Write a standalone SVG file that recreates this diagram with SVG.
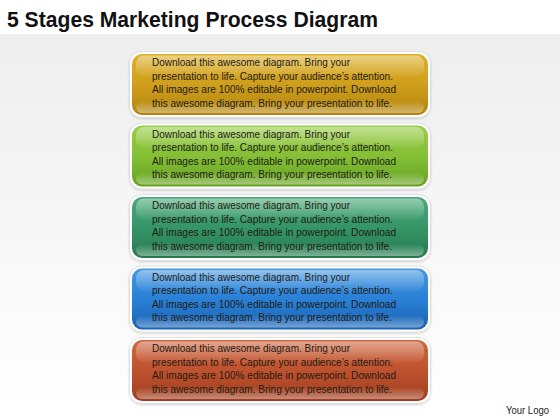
<svg xmlns="http://www.w3.org/2000/svg" width="560" height="420" viewBox="0 0 560 420">
  <defs>
    <linearGradient id="bg" x1="0" y1="0" x2="0" y2="1">
      <stop offset="0" stop-color="#eeeeee"/>
      <stop offset="1" stop-color="#ffffff"/>
    </linearGradient>
    <linearGradient id="gGold" x1="0" y1="0" x2="0" y2="1">
      <stop offset="0" stop-color="#deb02a"/>
      <stop offset="0.5" stop-color="#cf9e1c"/>
      <stop offset="1" stop-color="#b3850e"/>
    </linearGradient>
    <linearGradient id="gGreen" x1="0" y1="0" x2="0" y2="1">
      <stop offset="0" stop-color="#98cd45"/>
      <stop offset="0.5" stop-color="#84bf36"/>
      <stop offset="1" stop-color="#67a222"/>
    </linearGradient>
    <linearGradient id="gTeal" x1="0" y1="0" x2="0" y2="1">
      <stop offset="0" stop-color="#4aa97a"/>
      <stop offset="0.5" stop-color="#359566"/>
      <stop offset="1" stop-color="#267a51"/>
    </linearGradient>
    <linearGradient id="gBlue" x1="0" y1="0" x2="0" y2="1">
      <stop offset="0" stop-color="#4497e2"/>
      <stop offset="0.5" stop-color="#2a80d6"/>
      <stop offset="1" stop-color="#1a63b4"/>
    </linearGradient>
    <linearGradient id="gRed" x1="0" y1="0" x2="0" y2="1">
      <stop offset="0" stop-color="#cf6641"/>
      <stop offset="0.5" stop-color="#bf522e"/>
      <stop offset="1" stop-color="#9e3d1e"/>
    </linearGradient>
    <linearGradient id="hl" x1="0" y1="0" x2="0" y2="1">
      <stop offset="0" stop-color="#ffffff" stop-opacity="0.42"/>
      <stop offset="1" stop-color="#ffffff" stop-opacity="0.03"/>
    </linearGradient>
    <linearGradient id="rim" x1="0" y1="0" x2="0" y2="1">
      <stop offset="0" stop-color="#ffffff" stop-opacity="0"/>
      <stop offset="1" stop-color="#ffffff" stop-opacity="0.4"/>
    </linearGradient>
    <filter id="sh" x="-5%" y="-10%" width="110%" height="125%">
      <feDropShadow dx="0" dy="1" stdDeviation="1.2" flood-color="#000000" flood-opacity="0.18"/>
    </filter>
  </defs>
  <style>
    .title { font-family: "Liberation Sans", Arial, sans-serif; font-weight: bold; font-size: 22px; fill: #111111; }
    .body { font-family: "Liberation Sans", Arial, sans-serif; font-size: 11px; fill: #1e1c14; }
    .logo { font-family: "Liberation Sans", Arial, sans-serif; font-size: 10.5px; fill: #222222; }
    .outer { fill: #ffffff; stroke: #dcdcdc; stroke-width: 0.8; filter: url(#sh); }
    .hl { fill: url(#hl); }
    .rim { fill: url(#rim); }
  </style>

  <rect x="0" y="0" width="560" height="420" fill="#ffffff"/>
  <rect x="0" y="34" width="560" height="386" fill="url(#bg)"/>

  <text class="title" x="7" y="27" textLength="371" lengthAdjust="spacingAndGlyphs">5 Stages Marketing Process Diagram</text>

  <g id="connectors"></g>

  <g id="stage1">
    <rect class="outer" x="129.5" y="51.5" width="301" height="66" rx="12"/>
    <rect x="132" y="54" width="296" height="61" rx="10" fill="url(#gGold)"/>
    <rect class="hl" x="136" y="55.5" width="288" height="21" rx="8"/>
    <rect class="rim" x="136" y="101" width="288" height="12" rx="6"/>
    <text class="body" x="152" y="66" textLength="198" lengthAdjust="spacingAndGlyphs">Download this awesome diagram. Bring your</text>
    <text class="body" x="152" y="79.5" textLength="241" lengthAdjust="spacingAndGlyphs">presentation to life. Capture your audience’s attention.</text>
    <text class="body" x="152" y="93" textLength="244" lengthAdjust="spacingAndGlyphs">All images are 100% editable in powerpoint. Download</text>
    <text class="body" x="152" y="106.5" textLength="240" lengthAdjust="spacingAndGlyphs">this awesome diagram. Bring your presentation to life.</text>
  </g>

  <g id="stage2">
    <rect class="outer" x="129.5" y="123" width="301" height="66" rx="12"/>
    <rect x="132" y="125.5" width="296" height="61" rx="10" fill="url(#gGreen)"/>
    <rect class="hl" x="136" y="127" width="288" height="21" rx="8"/>
    <rect class="rim" x="136" y="172.5" width="288" height="12" rx="6"/>
    <text class="body" x="152" y="137.5" textLength="198" lengthAdjust="spacingAndGlyphs">Download this awesome diagram. Bring your</text>
    <text class="body" x="152" y="151" textLength="241" lengthAdjust="spacingAndGlyphs">presentation to life. Capture your audience’s attention.</text>
    <text class="body" x="152" y="164.5" textLength="244" lengthAdjust="spacingAndGlyphs">All images are 100% editable in powerpoint. Download</text>
    <text class="body" x="152" y="178" textLength="240" lengthAdjust="spacingAndGlyphs">this awesome diagram. Bring your presentation to life.</text>
  </g>

  <g id="stage3">
    <rect class="outer" x="129.5" y="194.5" width="301" height="66" rx="12"/>
    <rect x="132" y="197" width="296" height="61" rx="10" fill="url(#gTeal)"/>
    <rect class="hl" x="136" y="198.5" width="288" height="21" rx="8"/>
    <rect class="rim" x="136" y="244" width="288" height="12" rx="6"/>
    <text class="body" x="152" y="209" textLength="198" lengthAdjust="spacingAndGlyphs">Download this awesome diagram. Bring your</text>
    <text class="body" x="152" y="222.5" textLength="241" lengthAdjust="spacingAndGlyphs">presentation to life. Capture your audience’s attention.</text>
    <text class="body" x="152" y="236" textLength="244" lengthAdjust="spacingAndGlyphs">All images are 100% editable in powerpoint. Download</text>
    <text class="body" x="152" y="249.5" textLength="240" lengthAdjust="spacingAndGlyphs">this awesome diagram. Bring your presentation to life.</text>
  </g>

  <g id="stage4">
    <rect class="outer" x="129.5" y="266" width="301" height="66" rx="12"/>
    <rect x="132" y="268.5" width="296" height="61" rx="10" fill="url(#gBlue)"/>
    <rect class="hl" x="136" y="270" width="288" height="21" rx="8"/>
    <rect class="rim" x="136" y="315.5" width="288" height="12" rx="6"/>
    <text class="body" x="152" y="280.5" textLength="198" lengthAdjust="spacingAndGlyphs">Download this awesome diagram. Bring your</text>
    <text class="body" x="152" y="294" textLength="241" lengthAdjust="spacingAndGlyphs">presentation to life. Capture your audience’s attention.</text>
    <text class="body" x="152" y="307.5" textLength="244" lengthAdjust="spacingAndGlyphs">All images are 100% editable in powerpoint. Download</text>
    <text class="body" x="152" y="321" textLength="240" lengthAdjust="spacingAndGlyphs">this awesome diagram. Bring your presentation to life.</text>
  </g>

  <g id="stage5">
    <rect class="outer" x="129.5" y="337.5" width="301" height="66" rx="12"/>
    <rect x="132" y="340" width="296" height="61" rx="10" fill="url(#gRed)"/>
    <rect class="hl" x="136" y="341.5" width="288" height="21" rx="8"/>
    <rect class="rim" x="136" y="387" width="288" height="12" rx="6"/>
    <text class="body" x="152" y="352" textLength="198" lengthAdjust="spacingAndGlyphs">Download this awesome diagram. Bring your</text>
    <text class="body" x="152" y="365.5" textLength="241" lengthAdjust="spacingAndGlyphs">presentation to life. Capture your audience’s attention.</text>
    <text class="body" x="152" y="379" textLength="244" lengthAdjust="spacingAndGlyphs">All images are 100% editable in powerpoint. Download</text>
    <text class="body" x="152" y="392.5" textLength="240" lengthAdjust="spacingAndGlyphs">this awesome diagram. Bring your presentation to life.</text>
  </g>

  <text class="logo" x="506" y="414" textLength="43" lengthAdjust="spacingAndGlyphs">Your Logo</text>
</svg>
